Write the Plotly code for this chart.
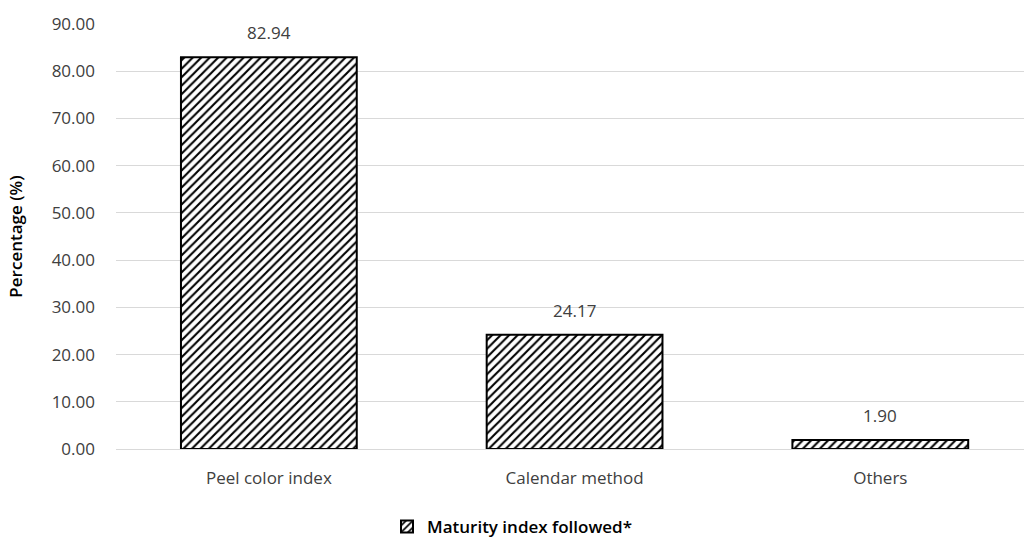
import plotly.graph_objects as go

categories = ["Peel color index", "Calendar method", "Others"]
values = [82.94, 24.17, 1.90]
series_name = "Maturity index followed*"
y_ticks = [0, 10, 20, 30, 40, 50, 60, 70, 80, 90]

font_family = "'Open Sans', Lato, sans-serif"

fig = go.Figure()
fig.add_trace(go.Bar(
    x=categories,
    y=values,
    name=series_name,
    width=0.575,
    marker=dict(
        color="white",
        line=dict(color="black", width=2),
        pattern=dict(shape="/", fgcolor="black", bgcolor="white", size=6,
                     solidity=0.35, fgopacity=1),
    ),
    showlegend=True,
))

for c, v in zip(categories, values):
    fig.add_annotation(
        x=c, y=v, text=f"{v:.2f}", showarrow=False,
        yanchor="bottom", yshift=11,
        font=dict(size=17, color="#404040", family=font_family),
    )

fig.update_layout(
    width=1024,
    height=541,
    margin=dict(l=116, r=0, t=24, b=92, autoexpand=False),
    plot_bgcolor="white",
    paper_bgcolor="white",
    font=dict(family=font_family, size=17, color="#404040"),
    legend=dict(
        orientation="h",
        xref="container", yref="container",
        x=0.5, xanchor="center",
        y=0.026, yanchor="middle",
        font=dict(size=17, color="black", family=font_family, weight=600),
    ),
    yaxis=dict(
        range=[0, 90],
        tickvals=y_ticks,
        tickformat=".2f",
        showgrid=True,
        gridcolor="#d9d9d9",
        gridwidth=1,
        zeroline=False,
        showline=False,
        ticks="",
        automargin=False,
        ticklabelstandoff=20,
        tickfont=dict(size=17, color="#404040"),
        title=dict(text="Percentage (%)",
                   font=dict(size=17, color="black", weight=600), standoff=24),
    ),
    xaxis=dict(
        range=[-0.5, 2.47],
        showline=True,
        linecolor="#d9d9d9",
        linewidth=1,
        ticks="",
        automargin=False,
        ticklabelstandoff=14,
        tickfont=dict(size=17, color="#404040"),
    ),
)

fig.write_html(
    "out.html",
    config={"displayModeBar": False},
    post_script="document.body.style.margin='0';document.body.style.padding='0';",
)
